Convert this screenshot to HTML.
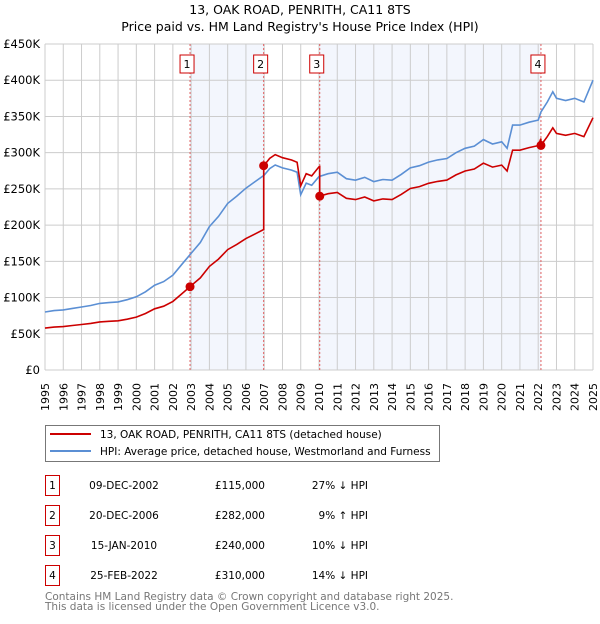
<!DOCTYPE html>
<html><head><meta charset="utf-8"><style>
body{margin:0;background:#fff;width:600px;height:620px;overflow:hidden;font-family:"DejaVu Sans","Liberation Sans",sans-serif}
svg text{font-family:"DejaVu Sans","Liberation Sans",sans-serif}
</style></head><body>
<svg id="c" width="600" height="620">
<text x="300" y="14" text-anchor="middle" font-size="12.5">13, OAK ROAD, PENRITH, CA11 8TS</text>
<text x="300" y="31" text-anchor="middle" font-size="12.5">Price paid vs. HM Land Registry's House Price Index (HPI)</text>
<g id="plot"></g>
<g>
<rect x="45.5" y="425.5" width="394" height="36" fill="#fff" stroke="#777"/>
<line x1="50" y1="434" x2="91" y2="434" stroke="#cc0000" stroke-width="2"/>
<text x="100" y="438" font-size="10.5">13, OAK ROAD, PENRITH, CA11 8TS (detached house)</text>
<line x1="50" y1="451" x2="91" y2="451" stroke="#5b8fd4" stroke-width="2"/>
<text x="100" y="455" font-size="10.5">HPI: Average price, detached house, Westmorland and Furness</text>
</g>
<g id="tbl" font-size="10.5"></g>
<text x="45" y="600" font-size="10.5" fill="#777">Contains HM Land Registry data © Crown copyright and database right 2025.</text>
<text x="45" y="610" font-size="10.5" fill="#777">This data is licensed under the Open Government Licence v3.0.</text>
</svg>
<script>
const hpiYears=[1995,1995.5,1996,1996.5,1997,1997.5,1998,1998.5,1999,1999.5,2000,2000.5,2001,2001.5,2002,2002.5,2003,2003.5,2004,2004.5,2005,2005.5,2006,2006.5,2007,2007.3,2007.6,2008,2008.5,2008.8,2009,2009.3,2009.6,2010,2010.5,2011,2011.5,2012,2012.5,2013,2013.5,2014,2014.5,2015,2015.5,2016,2016.5,2017,2017.5,2018,2018.5,2019,2019.5,2020,2020.3,2020.6,2021,2021.5,2022,2022.15,2022.5,2022.8,2023,2023.5,2024,2024.5,2025];
const hpiValues=[80,82,83,85,87,89,92,93,94,97,101,108,117,122,131,146,161,176,198,212,230,240,251,260,269,278,283,279,276,273,242,258,255,267,271,273,264,262,266,260,263,262,270,279,282,287,290,292,300,306,309,318,312,315,306,338,338,342,345,356,370,384,375,372,375,370,400];
const saleYears=[2002.94,2006.97,2010.04,2022.15];
const salePrices=[115,282,240,310];
const saleDates=["09-DEC-2002","20-DEC-2006","15-JAN-2010","25-FEB-2022"];
const salePriceLabels=["£115,000","£282,000","£240,000","£310,000"];
const saleHpiLabels=["27% ↓ HPI","9% ↑ HPI","10% ↓ HPI","14% ↓ HPI"];
const yTicks=[0,50,100,150,200,250,300,350,400,450];
const yTickLabels=["£0","£50K","£100K","£150K","£200K","£250K","£300K","£350K","£400K","£450K"];
const X0=45,X1=593,Y0=370,Y1=44;
const xs=y=>X0+(y-1995)/30*(X1-X0);
const ys=v=>Y0-v/450*(Y0-Y1);
const NS="http://www.w3.org/2000/svg";
const plot=document.getElementById('plot');
function mk(t,a,p){const e=document.createElementNS(NS,t);for(const k in a)e.setAttribute(k,a[k]);(p||plot).appendChild(e);return e;}
function hpiAt(y){for(let i=1;i<hpiYears.length;i++){if(y<=hpiYears[i]){const t=(y-hpiYears[i-1])/(hpiYears[i]-hpiYears[i-1]);return hpiValues[i-1]+t*(hpiValues[i]-hpiValues[i-1]);}}return hpiValues[hpiValues.length-1];}
for(const [a,b] of [[0,1],[2,3]]){
const r=mk('rect',{x:xs(saleYears[a]),y:Y1,width:xs(saleYears[b])-xs(saleYears[a]),height:Y0-Y1,fill:'#f3f6fd'});


}
for(let yr=1995;yr<=2025;yr++){
const l=mk('line',{x1:xs(yr),x2:xs(yr),y1:Y1,y2:Y0,stroke:'#ccc'});


const t=mk('text',{x:0,y:0,'font-size':11,'text-anchor':'end',transform:`translate(${xs(yr)+4},${Y0+13}) rotate(-90)`});
t.textContent=yr;


}
yTicks.forEach((v,i)=>{
const l=mk('line',{x1:X0,x2:X1,y1:ys(v),y2:ys(v),stroke:'#ccc'});


const t=mk('text',{x:40,y:ys(v)+4,'font-size':11.5,'text-anchor':'end'});
t.textContent=yTickLabels[i];


});
saleYears.forEach((s,i)=>{
const l=mk('line',{x1:xs(s),x2:xs(s),y1:Y1,y2:Y0,stroke:'#e06060','stroke-dasharray':'2,2'});


const bx=xs(s)-10;
const r=mk('rect',{x:bx,y:55,width:14,height:18,fill:'#fff',stroke:'#cc0000'});


const t=mk('text',{x:bx+7,y:68,'font-size':11,'text-anchor':'middle'});
t.textContent=i+1;


});
const hp=mk('path',{d:hpiYears.map((y,i)=>(i?'L':'M')+xs(y).toFixed(1)+','+ys(hpiValues[i]).toFixed(1)).join(''),fill:'none',stroke:'#5b8fd4','stroke-width':1.6});


function ratio(y){let k=0;for(let i=0;i<saleYears.length;i++)if(y>=saleYears[i])k=i;return salePrices[k]/hpiAt(saleYears[k]);}
let pts=[];
const allY=hpiYears.concat(saleYears).sort((a,b)=>a-b);
allY.forEach(y=>{
 const si=saleYears.indexOf(y);
 if(si>0){pts.push([y,hpiAt(y)*salePrices[si-1]/hpiAt(saleYears[si-1])]);}
 pts.push([y,hpiAt(y)*ratio(y)]);
});
const rp=mk('path',{d:pts.map((p,i)=>(i?'L':'M')+xs(p[0]).toFixed(1)+','+ys(p[1]).toFixed(1)).join(''),fill:'none',stroke:'#cc0000','stroke-width':1.6});


saleYears.forEach((s,i)=>{
const c=mk('circle',{cx:xs(s),cy:ys(salePrices[i]),r:4.5,fill:'#cc0000'});


});
const tbl=document.getElementById('tbl');
saleYears.forEach((s,i)=>{
const y0=475+i*30;
const r=mk('rect',{x:45.5,y:y0+.5,width:14,height:20,fill:'#fff',stroke:'#cc0000'},tbl);


const n=mk('text',{x:52.5,y:y0+14,'text-anchor':'middle'},tbl);n.textContent=i+1;


const d=mk('text',{x:124,y:y0+14,'text-anchor':'middle'},tbl);d.textContent=saleDates[i];


const p=mk('text',{x:265,y:y0+14,'text-anchor':'end'},tbl);p.textContent=salePriceLabels[i];


const h=mk('text',{x:368,y:y0+14,'text-anchor':'end'},tbl);h.textContent=saleHpiLabels[i];


});
</script>
</body></html>
